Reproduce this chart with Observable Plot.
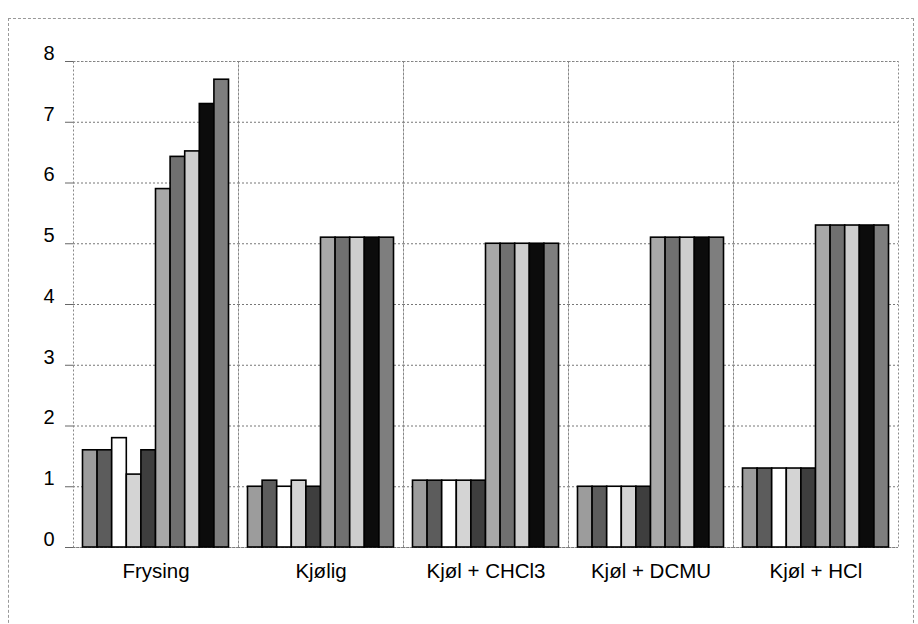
<!DOCTYPE html>
<html>
<head>
<meta charset="utf-8">
<script src="https://cdn.jsdelivr.net/npm/d3@7"></script>
<script src="https://cdn.jsdelivr.net/npm/@observablehq/plot@0.6"></script>
<style>
  html, body { margin: 0; padding: 0; background: #fff; }
  #wrap { position: relative; width: 918px; height: 624px; overflow: hidden; font-family: "Liberation Sans", Arial, sans-serif; }
  #border { position: absolute; left: 8px; top: 18px; width: 906px; height: 640px; border: 1px dashed #999; box-sizing: border-box; }
  #chart { position: absolute; left: 0; top: 0; }
</style>
</head>
<body>
<div id="wrap"><div id="border"></div><div id="chart"></div></div>
<script>
const categories = ["Frysing", "Kjølig", "Kjøl + CHCl3", "Kjøl + DCMU", "Kjøl + HCl"];
const series = ["S1", "S2", "S3", "S4", "S5", "S6", "S7", "S8", "S9", "S10"];
const frysing = [1.6, 1.6, 1.8, 1.2, 1.6, 5.9, 6.43, 6.52, 7.3, 7.7];
const kjolig  = [1.0, 1.1, 1.0, 1.1, 1.0, 5.1, 5.1, 5.1, 5.1, 5.1];
const chcl3   = [1.1, 1.1, 1.1, 1.1, 1.1, 5.0, 5.0, 5.0, 5.0, 5.0];
const dcmu    = [1.0, 1.0, 1.0, 1.0, 1.0, 5.1, 5.1, 5.1, 5.1, 5.1];
const hcl     = [1.3, 1.3, 1.3, 1.3, 1.3, 5.3, 5.3, 5.3, 5.3, 5.3];
const yTicks = [0, 1, 2, 3, 4, 5, 6, 7, 8];
const colors = ["#9c9c9c", "#5c5c5c", "#ffffff", "#d4d4d4", "#3e3e3e", "#a8a8a8", "#707070", "#cdcdcd", "#0c0c0c", "#7e7e7e"];

const valueSets = [frysing, kjolig, chcl3, dcmu, hcl];
const data = [];
categories.forEach((c, i) => series.forEach((s, j) => data.push({cat: c, series: s, value: valueSets[i][j]})));

const chart = Plot.plot({
  width: 918,
  height: 624,
  marginLeft: 73,
  marginRight: 20,
  marginTop: 61,
  marginBottom: 77,
  style: {fontFamily: "'Liberation Sans', Arial, sans-serif", background: "transparent", color: "#000"},
  fx: {domain: categories, padding: 0, round: false, label: null},
  x: {domain: series, axis: null, paddingInner: 0, paddingOuter: 0.65, round: false},
  y: {domain: [0, 8], label: null},
  color: {domain: series, range: colors},
  marks: [
    Plot.gridY(yTicks, {stroke: "#777", strokeOpacity: 1, strokeDasharray: "2,2"}),
    Plot.frame({stroke: "#888", strokeDasharray: "2,2"}),
    Plot.barY(data, {fx: "cat", x: "series", y: "value", fill: "series", stroke: "#000", strokeWidth: 1.6}),
    Plot.axisY(yTicks, {tickSize: 8, tickFormat: () => "", stroke: "#666", label: null}),
    Plot.axisY(yTicks, {tickSize: 0, tickPadding: 19, fontSize: 20, dy: -8, tickFormat: "d", label: null}),
    Plot.axisFx({anchor: "bottom", tickSize: 0, tickPadding: 16, fontSize: 20.5, label: null})
  ]
});
document.getElementById("chart").appendChild(chart);
</script>
</body>
</html>
